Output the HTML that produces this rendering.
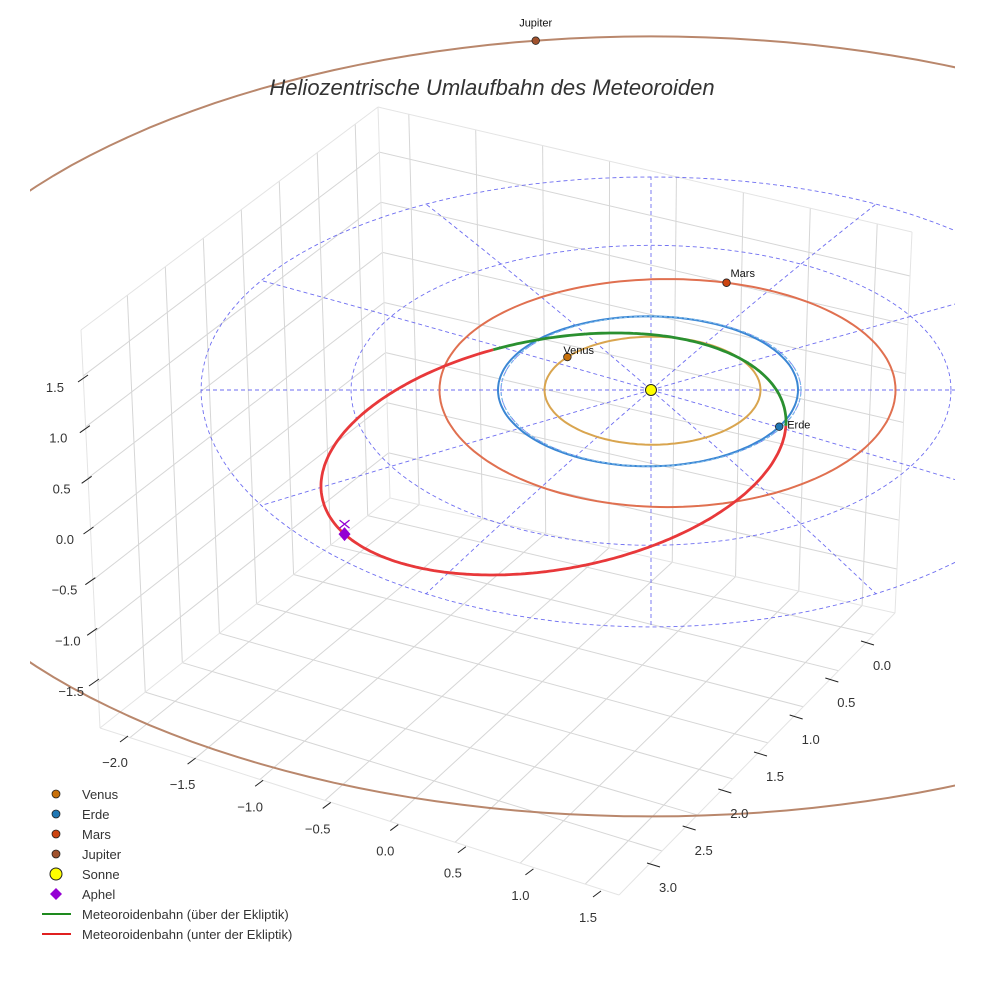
<!DOCTYPE html>
<html><head><meta charset="utf-8">
<style>
html,body{margin:0;padding:0;background:#fff;}
svg{display:block;font-family:"Liberation Sans",sans-serif;}
</style></head>
<body>
<svg id="chart" width="984" height="984" viewBox="0 0 984 984" xmlns="http://www.w3.org/2000/svg">
<defs><clipPath id="plotclip"><rect x="30" y="0" width="925" height="984"/></clipPath></defs>
<rect width="984" height="984" fill="#fff"/>
<g id="grid"></g>
<g id="ecl" clip-path="url(#plotclip)"></g>
<g id="orbits" clip-path="url(#plotclip)"></g>
<g id="marks"></g>
<g id="axes"></g>
<text x="492" y="95" text-anchor="middle" font-size="22" font-style="italic" fill="#333">Heliozentrische Umlaufbahn des Meteoroiden</text>
<g id="legend"></g>
</svg>
<script>
// ---- data ----
const xTicks = [-2.0,-1.5,-1.0,-0.5,0.0,0.5,1.0,1.5];
const yTicks = [0.0,0.5,1.0,1.5,2.0,2.5,3.0];
const zTicks = [-1.5,-1.0,-0.5,0.0,0.5,1.0,1.5];
const planetNames = ["Venus","Erde","Mars","Jupiter"];
const planetRadii = [0.72,1.0,1.52,5.2];
const planetOffsetX = [0.01,-0.02,0.11,0];
const planetAngles = [142,-29,75,98.5];
const planetOrbitColors = ["#d9a54f","#3a86d4","#e07050","#b9876c"];
const planetMarkerColors = ["#c8700a","#1f77b4","#cc4410","#a0522d"];
const refCircleRadii = [1,2,3];
const spokeAngles = [0,30,60,90,120,150,180,210,240,270,300,330];
const meteorCenter = [-0.65,-0.853];
const meteorAxisU = [1.55,0.43];
const meteorAxisV = [0,1.555];
const meteorAboveRange = [-2,105];
const aphelT = 206;

const NS="http://www.w3.org/2000/svg";
function el(tag,attrs,parent){const e=document.createElementNS(NS,tag);for(const k in attrs)e.setAttribute(k,attrs[k]);parent.appendChild(e);return e;}
const lerp=(a,b,t)=>a+(b-a)*t;
function bil(P00,P10,P01,P11,u,v){return [lerp(lerp(P00[0],P10[0],u),lerp(P01[0],P11[0],u),v),lerp(lerp(P00[1],P10[1],u),lerp(P01[1],P11[1],u),v)];}

const xmin=-2.23,xmax=1.76,ymin=-0.61,ymax=3.3,zmin=-1.95,zmax=1.95;
const fx=x=>(x-xmin)/(xmax-xmin);
const fy=y=>(ymax-y)/(ymax-ymin);
const fz=z=>(z-zmin)/(zmax-zmin);
const A=[100,728],B=[619,895],C=[895,613],D=[390,498];
const At=[81,330],Dt=[378,107],Ct=[912,232];
const grid=document.getElementById('grid');
function line(p,q,parent,attrs){const a={x1:p[0],y1:p[1],x2:q[0],y2:q[1]};Object.assign(a,attrs);return el('line',a,parent);}
const gs={stroke:"#d6d6d6","stroke-width":1};
const backWall=(u,w)=>bil(D,C,Dt,Ct,u,w);
function floorP(u,v){return bil(A,B,D,C,u,v);}
function leftP(v,w){return bil(A,D,At,Dt,v,w);}
xTicks.forEach(x=>{const u=fx(x);
  const l1=line(floorP(u,0),floorP(u,1),grid,gs); 
  const l2=line(backWall(u,0),backWall(u,1),grid,gs); 
});
yTicks.forEach(y=>{const v=1-fy(y);
  const l1=line(floorP(0,v),floorP(1,v),grid,gs); 
  const l2=line(leftP(v,0),leftP(v,1),grid,gs); 
});
zTicks.forEach(z=>{const w=fz(z);
  const l1=line(leftP(0,w),leftP(1,w),grid,gs); 
  const l2=line(backWall(0,w),backWall(1,w),grid,gs); 
});
[[A,B],[B,C],[A,D],[D,C],[A,At],[D,Dt],[C,Ct],[At,Dt],[Dt,Ct]].forEach(p=>{const l=line(p[0],p[1],grid,{stroke:"#e4e4e4","stroke-width":1});});

function proj(X,Y,Z,quad){Z=Z||0;const q=quad===false?0:1.33*(Y*Y);return [651+150*X,390-75*Y+q-100*Z];}
function polar(r,deg,ox,far){const t=deg*Math.PI/180;
  if(far){const p=proj((ox||0)+r*Math.cos(t),r*Math.sin(t),0,false);return [p[0],p[1]+7*r];}
  return proj((ox||0)+r*Math.cos(t),r*Math.sin(t));}
function pathFrom(pts){return pts.map((p,i)=>(i?'L':'M')+p[0].toFixed(1)+' '+p[1].toFixed(1)).join(' ');}
const ecl=document.getElementById('ecl');
const dash={fill:"none",stroke:"#5555ee","stroke-width":0.9,"stroke-dasharray":"4 3",opacity:0.85};
refCircleRadii.forEach(r=>{const pts=[];for(let a=0;a<=360;a+=3)pts.push(polar(r,a));
  const p=el('path',Object.assign({d:pathFrom(pts)},dash),ecl);});
const rMax=refCircleRadii[refCircleRadii.length-1];
spokeAngles.forEach(a=>{const pts=[];for(let r=0;r<=rMax;r+=0.25)pts.push(polar(r,a));
  const p=el('path',Object.assign({d:pathFrom(pts)},dash),ecl);});

const orbits=document.getElementById('orbits');
planetRadii.forEach((r,i)=>{const pts=[];for(let a=0;a<=360;a+=2)pts.push(polar(r,a,planetOffsetX[i],r>4));
  const p=el('path',{d:pathFrom(pts),fill:"none",stroke:planetOrbitColors[i],"stroke-width":2},orbits);
  });
{const pts=[];for(let a=0;a<=360;a+=2)pts.push(polar(1.0,a,0.0));
 const p=el('path',{d:pathFrom(pts),fill:"none",stroke:"#7ab8e8","stroke-width":1.2,"stroke-dasharray":"3 2"},orbits);
 }
function meteor(t){const a=t*Math.PI/180;const X=meteorCenter[0]+meteorAxisU[0]*Math.cos(a)+meteorAxisV[0]*Math.sin(a);const Y=meteorCenter[1]+meteorAxisU[1]*Math.cos(a)+meteorAxisV[1]*Math.sin(a);return proj(X,Y,0,false);}
{const g=[],r=[];for(let t=meteorAboveRange[0];t<=meteorAboveRange[1];t+=1)g.push(meteor(t));for(let t=meteorAboveRange[1];t<=360+meteorAboveRange[0];t+=1)r.push(meteor(t));
const pr=el('path',{d:pathFrom(r),fill:"none",stroke:"#e8383a","stroke-width":2.8},orbits);
const pg=el('path',{d:pathFrom(g),fill:"none",stroke:"#2a9030","stroke-width":2.8},orbits);}

const marks=document.getElementById('marks');
const labelOff=[[-4,-3],[8,2],[4,-6],[0,-14]];
planetRadii.forEach((r,i)=>{const p=polar(r,planetAngles[i],planetOffsetX[i],r>4);
  const c=el('circle',{cx:p[0],cy:p[1],r:3.8,fill:planetMarkerColors[i],stroke:"#222","stroke-width":0.8},marks);
  
  const t=el('text',{x:p[0]+labelOff[i][0],y:p[1]+labelOff[i][1],"font-size":11,fill:"#111","text-anchor":i===3?"middle":"start"},marks);
  t.textContent=planetNames[i];});
{const s=proj(0,0);const c=el('circle',{cx:s[0],cy:s[1],r:5.5,fill:"#ffff00",stroke:"#222","stroke-width":1},marks);
const a=meteor(aphelT);const d=el('path',{d:`M${a[0]} ${a[1]-7} L${a[0]+6} ${a[1]} L${a[0]} ${a[1]+7} L${a[0]-6} ${a[1]} Z`,fill:"#9400d3"},marks);
const x=el('path',{d:`M${a[0]-5} ${a[1]-14} L${a[0]+5} ${a[1]-6} M${a[0]+5} ${a[1]-14} L${a[0]-5} ${a[1]-6}`,stroke:"#9400d3","stroke-width":1.3},marks);}

const axes=document.getElementById('axes');
xTicks.forEach(x=>{const t=(x+2)/3.5;const L=[lerp(115,588,t),lerp(762,917,t)];
  const tk=line([L[0]+5,L[1]-20],[L[0]+13,L[1]-26],axes,{stroke:"#222","stroke-width":1});
  const tx=el('text',{x:L[0],y:L[1]+5,"font-size":13,fill:"#333","text-anchor":"middle"},axes);tx.textContent=(x<0?'\u2212':'')+Math.abs(x).toFixed(1);});
yTicks.forEach(y=>{const t=y/3;const L=[lerp(882,668,t),lerp(665,887,t)];
  const tk=line([L[0]-21,L[1]-24],[L[0]-8,L[1]-20],axes,{stroke:"#222","stroke-width":1});
  const tx=el('text',{x:L[0],y:L[1]+5,"font-size":13,fill:"#333","text-anchor":"middle"},axes);tx.textContent=y.toFixed(1);});
zTicks.forEach(z=>{const t=(1.5-z)/3;const ly=lerp(387,691,t),rx=lerp(64,84,t);
  const ty=lerp(378,682,t),tx0=lerp(78,89,t);
  const tk=line([tx0,ty+4],[tx0+10,ty-3],axes,{stroke:"#222","stroke-width":1});
  const tx=el('text',{x:rx,y:ly+5,"font-size":13,fill:"#333","text-anchor":"end"},axes);tx.textContent=(z<0?'\u2212':'')+Math.abs(z).toFixed(1);});

const legend=document.getElementById('legend');
const legendLabels=["Venus","Erde","Mars","Jupiter","Sonne","Aphel","Meteoroidenbahn (über der Ekliptik)","Meteoroidenbahn (unter der Ekliptik)"];
legendLabels.forEach((lab,i)=>{const y=794+i*20;
  const g=el('g',{},legend);
  if(i<4){el('circle',{cx:56,cy:y,r:4,fill:planetMarkerColors[i],stroke:"#222","stroke-width":0.8},g);}
  else if(i===4){el('circle',{cx:56,cy:y,r:6,fill:"#ffff00",stroke:"#222","stroke-width":1},g);}
  else if(i===5){el('path',{d:`M56 ${y-6} L62 ${y} L56 ${y+6} L50 ${y} Z`,fill:"#9400d3"},g);}
  else {el('line',{x1:42,y1:y,x2:71,y2:y,stroke:i===6?"#1e8a1e":"#e02020","stroke-width":2},g);}
  const t=el('text',{x:82,y:y+5,"font-size":13,fill:"#333"},g);t.textContent=lab;});
</script>
</body></html>
